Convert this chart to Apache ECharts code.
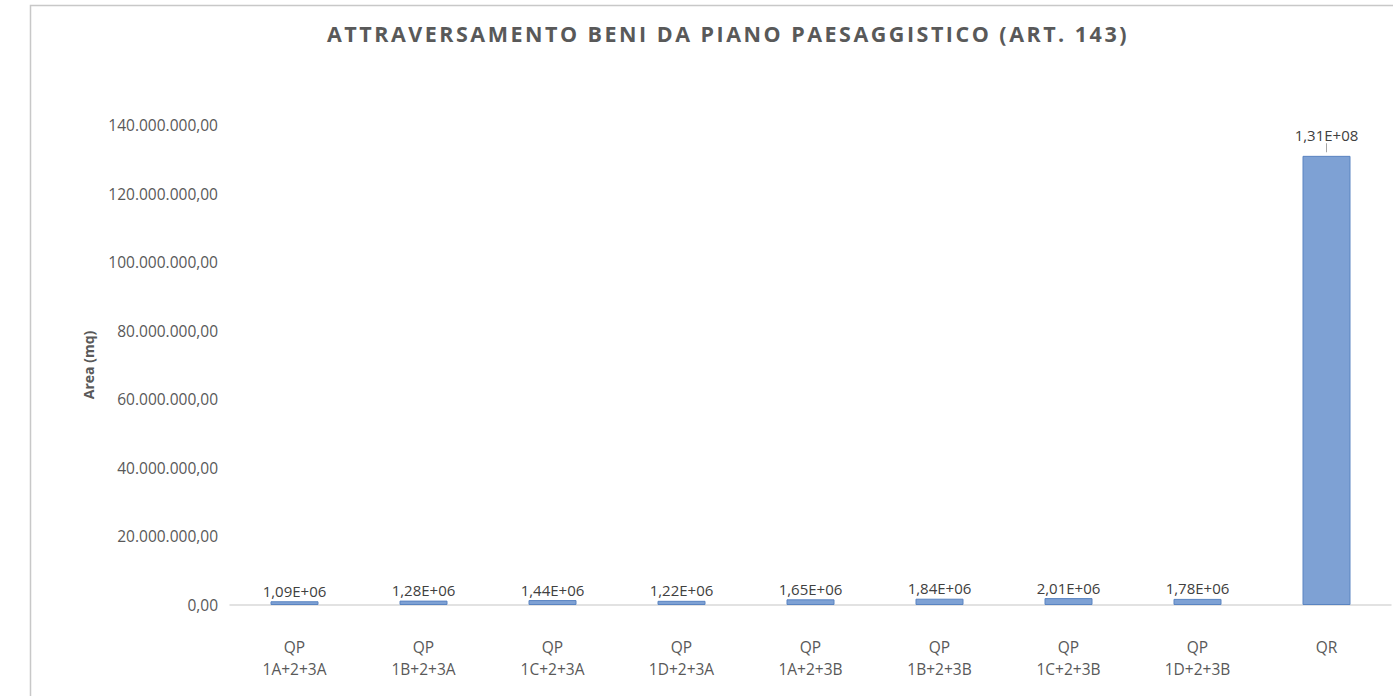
<!DOCTYPE html>
<html><head><meta charset="utf-8">
<script src="https://cdn.jsdelivr.net/npm/echarts@6/dist/echarts.min.js"></script>
<style>html,body{margin:0;padding:0;background:#fff}#c{width:1393px;height:696px}</style>
</head><body><div id="c"></div>
<script>
const titleText = 'ATTRAVERSAMENTO BENI DA PIANO PAESAGGISTICO (ART. 143)';
const categories = ['QP\n1A+2+3A','QP\n1B+2+3A','QP\n1C+2+3A','QP\n1D+2+3A','QP\n1A+2+3B','QP\n1B+2+3B','QP\n1C+2+3B','QP\n1D+2+3B','QR'];
const areaValues = [1090000,1280000,1440000,1220000,1650000,1840000,2010000,1780000,131000000];
const yAxisName = 'Area (mq)';

function itNum(v){
  const parts = Math.abs(v).toFixed(2).split('.');
  const int = parts[0].replace(/\B(?=(\d{3})+(?!\d))/g,'.');
  return (v<0?'-':'') + int + ',' + parts[1];
}
function sci(v){
  const [m,e] = v.toExponential(2).split('e');
  const ex = parseInt(e,10);
  return m.replace('.',',') + 'E' + (ex<0?'-':'+') + String(Math.abs(ex)).padStart(2,'0');
}
const chart = echarts.init(document.getElementById('c'), null, {renderer:'svg'});
const txt = '#595959';
const lastIdx = areaValues.length - 1;
chart.setOption({
  animation:false,
  textStyle:{fontFamily:'Open Sans'},
  graphic:[{type:'rect',left:28,top:3,shape:{width:1400,height:720},style:{fill:'none',stroke:'#c8c8c8',lineWidth:1.5}}],
  title:{text:titleText,left:723,textAlign:'center',top:17,textStyle:{fontFamily:'Open Sans',fontSize:21.5,fontWeight:'bold',color:txt}},
  grid:{left:230,right:2,top:125,bottom:91},
  xAxis:{type:'category',data:categories,axisLine:{lineStyle:{color:'#d9d9d9',width:1.5}},axisTick:{show:false},
    axisLabel:{color:txt,fontSize:15.5,lineHeight:22,margin:31}},
  yAxis:{type:'value',min:0,max:140000000,interval:20000000,splitLine:{show:false},axisLine:{show:false},axisTick:{show:false},
    name:yAxisName,nameLocation:'middle',nameGap:135,nameTextStyle:{color:txt,fontSize:14,fontWeight:'bold'},
    axisLabel:{color:txt,fontSize:15.5,margin:12,formatter:v=>itNum(v)}},
  series:[{type:'bar',barWidth:48,
    data:areaValues,
    itemStyle:{color:'#7ea1d4',borderColor:'#5a84c1',borderWidth:1},
    label:{show:true,position:'top',distance:3,color:'#404040',fontSize:15,
      formatter:p=> p.dataIndex===lastIdx ? sci(p.value)+'\n{l|}' : sci(p.value),
      rich:{l:{width:1,height:9,backgroundColor:'#a6a6a6',lineHeight:10}}}
  }]
});
// Excel-style letter spacing on the title
document.querySelectorAll('#c svg text').forEach(t=>{
  if(t.textContent===titleText){ t.style.letterSpacing='2.5px'; }
});
</script></body></html>
